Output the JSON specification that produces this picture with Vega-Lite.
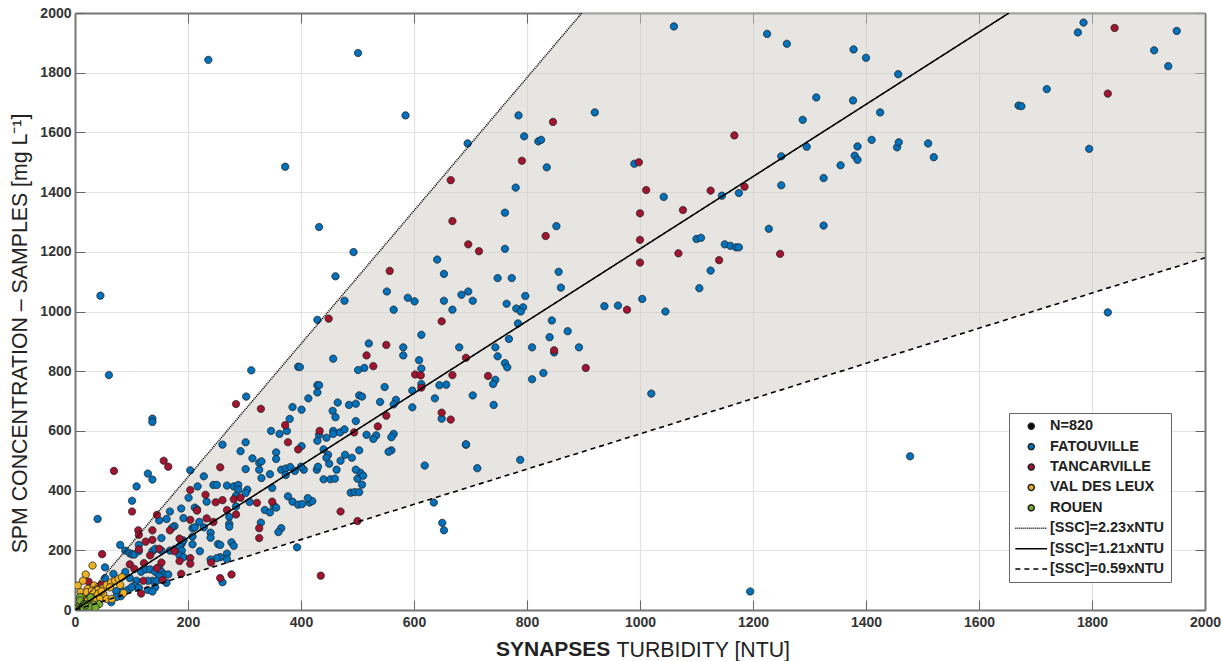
{"$schema":"https://vega.github.io/schema/vega-lite/v6.json","width":1130,"height":597,"autosize":{"type":"none"},"padding":{"left":75,"top":13,"right":17,"bottom":51},"background":"white",
"title":{"text":"SYNAPSES","orient":"bottom","anchor":"start","dx":487,"offset":-21,"fontSize":21,"font":"Liberation Sans","fontWeight":"bold","color":"#222"},
"config":{"view":{"stroke":null}},
"resolve":{"axis":{"x":"independent","y":"independent"}},
"datasets":{
"band":[{"x":0,"lo":0,"hi":0},{"x":897,"lo":529,"hi":2000},{"x":2000,"lo":1180,"hi":2000}],
"lines":[{"x":0,"y":0,"s":"A"},{"x":897,"y":2000,"s":"A"},{"x":0,"y":0,"s":"B"},{"x":1653,"y":2000,"s":"B"},{"x":0,"y":0,"s":"C"},{"x":2000,"y":1180,"s":"C"}],
"pts":[
{"x":236,"y":1843,"s":"F"},{"x":501,"y":1866,"s":"F"},{"x":1060,"y":1955,"s":"F"},{"x":1225,"y":1930,"s":"F"},{"x":1260,"y":1897,"s":"F"},{"x":1378,"y":1878,"s":"F"},{"x":1400,"y":1850,"s":"F"},{"x":1775,"y":1935,"s":"F"},{"x":1785,"y":1968,"s":"F"},{"x":1910,"y":1875,"s":"F"},{"x":1950,"y":1940,"s":"F"},{"x":1935,"y":1822,"s":"F"},{"x":1457,"y":1795,"s":"F"},{"x":1312,"y":1717,"s":"F"},{"x":1377,"y":1707,"s":"F"},{"x":1288,"y":1642,"s":"F"},{"x":1295,"y":1552,"s":"F"},{"x":1425,"y":1667,"s":"F"},{"x":1410,"y":1575,"s":"F"},{"x":1380,"y":1522,"s":"F"},{"x":1385,"y":1553,"s":"F"},{"x":1385,"y":1508,"s":"F"},{"x":1355,"y":1490,"s":"F"},{"x":1325,"y":1447,"s":"F"},{"x":1250,"y":1520,"s":"F"},{"x":1250,"y":1423,"s":"F"},{"x":1455,"y":1550,"s":"F"},{"x":1458,"y":1567,"s":"F"},{"x":1510,"y":1563,"s":"F"},{"x":1520,"y":1517,"s":"F"},{"x":1670,"y":1690,"s":"F"},{"x":1675,"y":1688,"s":"F"},{"x":1720,"y":1745,"s":"F"},{"x":1795,"y":1545,"s":"F"},{"x":1325,"y":1288,"s":"F"},{"x":1228,"y":1277,"s":"F"},{"x":920,"y":1667,"s":"F"},{"x":990,"y":1495,"s":"F"},{"x":1042,"y":1384,"s":"F"},{"x":1145,"y":1388,"s":"F"},{"x":1175,"y":1397,"s":"F"},{"x":1150,"y":1225,"s":"F"},{"x":1160,"y":1220,"s":"F"},{"x":1170,"y":1215,"s":"F"},{"x":1175,"y":1215,"s":"F"},{"x":1100,"y":1243,"s":"F"},{"x":1108,"y":1247,"s":"F"},{"x":1105,"y":1078,"s":"F"},{"x":1125,"y":1137,"s":"F"},{"x":1045,"y":1000,"s":"F"},{"x":1020,"y":725,"s":"F"},{"x":1478,"y":515,"s":"F"},{"x":1828,"y":997,"s":"F"},{"x":1195,"y":62,"s":"F"},{"x":585,"y":1657,"s":"F"},{"x":372,"y":1485,"s":"F"},{"x":695,"y":1563,"s":"F"},{"x":785,"y":1657,"s":"F"},{"x":795,"y":1587,"s":"F"},{"x":820,"y":1570,"s":"F"},{"x":825,"y":1575,"s":"F"},{"x":835,"y":1483,"s":"F"},{"x":780,"y":1415,"s":"F"},{"x":45,"y":1053,"s":"F"},{"x":60,"y":787,"s":"F"},{"x":312,"y":803,"s":"F"},{"x":303,"y":715,"s":"F"},{"x":395,"y":815,"s":"F"},{"x":385,"y":680,"s":"F"},{"x":347,"y":600,"s":"F"},{"x":362,"y":590,"s":"F"},{"x":380,"y":640,"s":"F"},{"x":375,"y":600,"s":"F"},
{"x":432,"y":1283,"s":"F"},{"x":493,"y":1199,"s":"F"},{"x":461,"y":1118,"s":"F"},{"x":477,"y":1036,"s":"F"},{"x":429,"y":972,"s":"F"},{"x":761,"y":1331,"s":"F"},{"x":761,"y":1210,"s":"F"},{"x":852,"y":1286,"s":"F"},{"x":641,"y":1174,"s":"F"},{"x":653,"y":1126,"s":"F"},{"x":748,"y":1112,"s":"F"},{"x":773,"y":1112,"s":"F"},{"x":856,"y":1133,"s":"F"},{"x":860,"y":1080,"s":"F"},{"x":696,"y":1067,"s":"F"},{"x":684,"y":1056,"s":"F"},{"x":552,"y":1067,"s":"F"},{"x":589,"y":1046,"s":"F"},{"x":601,"y":1034,"s":"F"},{"x":653,"y":1036,"s":"F"},{"x":704,"y":1036,"s":"F"},{"x":797,"y":1052,"s":"F"},{"x":764,"y":1026,"s":"F"},{"x":781,"y":1010,"s":"F"},{"x":793,"y":1014,"s":"F"},{"x":789,"y":1000,"s":"F"},{"x":668,"y":1006,"s":"F"},{"x":564,"y":1006,"s":"F"},{"x":784,"y":960,"s":"F"},{"x":844,"y":970,"s":"F"},{"x":937,"y":1018,"s":"F"},{"x":961,"y":1020,"s":"F"},{"x":1004,"y":1042,"s":"F"},{"x":840,"y":914,"s":"F"},{"x":872,"y":934,"s":"F"},{"x":768,"y":908,"s":"F"},{"x":613,"y":922,"s":"F"},{"x":520,"y":893,"s":"F"},{"x":581,"y":880,"s":"F"},{"x":680,"y":880,"s":"F"},{"x":744,"y":880,"s":"F"},{"x":809,"y":880,"s":"F"},{"x":892,"y":880,"s":"F"},{"x":848,"y":863,"s":"F"},{"x":581,"y":853,"s":"F"},{"x":748,"y":850,"s":"F"},{"x":457,"y":842,"s":"F"},{"x":609,"y":837,"s":"F"},{"x":613,"y":809,"s":"F"},{"x":761,"y":827,"s":"F"},{"x":765,"y":813,"s":"F"},{"x":829,"y":794,"s":"F"},{"x":512,"y":811,"s":"F"},{"x":501,"y":804,"s":"F"},{"x":398,"y":814,"s":"F"},{"x":809,"y":773,"s":"F"},{"x":744,"y":771,"s":"F"},{"x":740,"y":757,"s":"F"},{"x":645,"y":753,"s":"F"},{"x":657,"y":755,"s":"F"},{"x":613,"y":757,"s":"F"},{"x":597,"y":735,"s":"F"},{"x":429,"y":753,"s":"F"},{"x":432,"y":753,"s":"F"},{"x":429,"y":729,"s":"F"},{"x":548,"y":747,"s":"F"},{"x":704,"y":719,"s":"F"},{"x":637,"y":709,"s":"F"},{"x":413,"y":709,"s":"F"},{"x":503,"y":719,"s":"F"},{"x":508,"y":715,"s":"F"},{"x":465,"y":695,"s":"F"},{"x":485,"y":687,"s":"F"},{"x":497,"y":691,"s":"F"},{"x":540,"y":697,"s":"F"},{"x":568,"y":704,"s":"F"},{"x":564,"y":689,"s":"F"},{"x":401,"y":671,"s":"F"},{"x":597,"y":679,"s":"F"},{"x":456,"y":667,"s":"F"},{"x":461,"y":646,"s":"F"},{"x":741,"y":687,"s":"F"},{"x":649,"y":641,"s":"F"},{"x":497,"y":633,"s":"F"},{"x":457,"y":600,"s":"F"},{"x":457,"y":590,"s":"F"},{"x":432,"y":587,"s":"F"},{"x":469,"y":595,"s":"F"},{"x":477,"y":605,"s":"F"},{"x":445,"y":577,"s":"F"},{"x":429,"y":567,"s":"F"},{"x":516,"y":587,"s":"F"},{"x":533,"y":585,"s":"F"},{"x":528,"y":573,"s":"F"},{"x":564,"y":590,"s":"F"},{"x":560,"y":579,"s":"F"},{"x":692,"y":554,"s":"F"},{"x":440,"y":538,"s":"F"},{"x":401,"y":549,"s":"F"},{"x":503,"y":535,"s":"F"},{"x":560,"y":535,"s":"F"},
{"x":137,"y":641,"s":"F"},{"x":137,"y":630,"s":"F"},{"x":261,"y":554,"s":"F"},{"x":302,"y":562,"s":"F"},{"x":293,"y":532,"s":"F"},{"x":204,"y":468,"s":"F"},{"x":228,"y":448,"s":"F"},{"x":129,"y":457,"s":"F"},{"x":137,"y":437,"s":"F"},{"x":109,"y":414,"s":"F"},{"x":101,"y":366,"s":"F"},{"x":40,"y":305,"s":"F"},{"x":314,"y":508,"s":"F"},{"x":326,"y":493,"s":"F"},{"x":330,"y":498,"s":"F"},{"x":356,"y":528,"s":"F"},{"x":356,"y":506,"s":"F"},{"x":302,"y":472,"s":"F"},{"x":326,"y":470,"s":"F"},{"x":330,"y":442,"s":"F"},{"x":345,"y":455,"s":"F"},{"x":365,"y":470,"s":"F"},{"x":373,"y":474,"s":"F"},{"x":381,"y":479,"s":"F"},{"x":373,"y":452,"s":"F"},{"x":389,"y":466,"s":"F"},{"x":349,"y":409,"s":"F"},{"x":245,"y":419,"s":"F"},{"x":251,"y":419,"s":"F"},{"x":217,"y":414,"s":"F"},{"x":201,"y":376,"s":"F"},{"x":269,"y":417,"s":"F"},{"x":281,"y":414,"s":"F"},{"x":289,"y":419,"s":"F"},{"x":289,"y":403,"s":"F"},{"x":305,"y":403,"s":"F"},{"x":302,"y":392,"s":"F"},{"x":285,"y":383,"s":"F"},{"x":212,"y":343,"s":"F"},{"x":216,"y":337,"s":"F"},{"x":188,"y":340,"s":"F"},{"x":168,"y":330,"s":"F"},{"x":149,"y":300,"s":"F"},{"x":162,"y":305,"s":"F"},{"x":192,"y":308,"s":"F"},{"x":220,"y":295,"s":"F"},{"x":208,"y":274,"s":"F"},{"x":212,"y":277,"s":"F"},{"x":228,"y":277,"s":"F"},{"x":240,"y":259,"s":"F"},{"x":240,"y":242,"s":"F"},{"x":208,"y":246,"s":"F"},{"x":208,"y":220,"s":"F"},{"x":221,"y":197,"s":"F"},{"x":253,"y":221,"s":"F"},{"x":257,"y":218,"s":"F"},{"x":273,"y":312,"s":"F"},{"x":273,"y":289,"s":"F"},{"x":273,"y":279,"s":"F"},{"x":277,"y":227,"s":"F"},{"x":281,"y":215,"s":"F"},{"x":269,"y":189,"s":"F"},{"x":269,"y":170,"s":"F"},{"x":257,"y":177,"s":"F"},{"x":251,"y":174,"s":"F"},{"x":240,"y":169,"s":"F"},{"x":285,"y":347,"s":"F"},{"x":309,"y":362,"s":"F"},{"x":336,"y":335,"s":"F"},{"x":345,"y":327,"s":"F"},{"x":352,"y":349,"s":"F"},{"x":356,"y":343,"s":"F"},{"x":377,"y":381,"s":"F"},{"x":385,"y":363,"s":"F"},{"x":395,"y":353,"s":"F"},{"x":329,"y":293,"s":"F"},{"x":365,"y":274,"s":"F"},{"x":360,"y":261,"s":"F"},{"x":393,"y":210,"s":"F"},{"x":233,"y":363,"s":"F"},
{"x":153,"y":241,"s":"F"},{"x":176,"y":281,"s":"F"},{"x":172,"y":276,"s":"F"},{"x":80,"y":218,"s":"F"},{"x":89,"y":199,"s":"F"},{"x":97,"y":190,"s":"F"},{"x":101,"y":186,"s":"F"},{"x":105,"y":186,"s":"F"},{"x":113,"y":218,"s":"F"},{"x":113,"y":197,"s":"F"},{"x":137,"y":197,"s":"F"},{"x":142,"y":205,"s":"F"},{"x":153,"y":199,"s":"F"},{"x":168,"y":199,"s":"F"},{"x":176,"y":203,"s":"F"},{"x":189,"y":222,"s":"F"},{"x":192,"y":233,"s":"F"},{"x":185,"y":213,"s":"F"},{"x":189,"y":199,"s":"F"},{"x":185,"y":183,"s":"F"},{"x":192,"y":177,"s":"F"},{"x":53,"y":143,"s":"F"},{"x":53,"y":107,"s":"F"},{"x":68,"y":121,"s":"F"},{"x":89,"y":128,"s":"F"},{"x":97,"y":107,"s":"F"},{"x":117,"y":128,"s":"F"},{"x":125,"y":136,"s":"F"},{"x":133,"y":136,"s":"F"},{"x":142,"y":128,"s":"F"},{"x":149,"y":143,"s":"F"},{"x":153,"y":128,"s":"F"},{"x":158,"y":119,"s":"F"},{"x":165,"y":119,"s":"F"},{"x":149,"y":113,"s":"F"},{"x":137,"y":98,"s":"F"},{"x":129,"y":98,"s":"F"},{"x":145,"y":98,"s":"F"},{"x":162,"y":91,"s":"F"},{"x":142,"y":76,"s":"F"},{"x":129,"y":67,"s":"F"},{"x":137,"y":62,"s":"F"},{"x":109,"y":98,"s":"F"},{"x":105,"y":82,"s":"F"},{"x":113,"y":74,"s":"F"},{"x":93,"y":67,"s":"F"},{"x":81,"y":67,"s":"F"},{"x":73,"y":63,"s":"F"},{"x":81,"y":46,"s":"F"},{"x":64,"y":26,"s":"F"},{"x":73,"y":43,"s":"F"},{"x":100,"y":76,"s":"F"},{"x":261,"y":93,"s":"F"},
{"x":712,"y":475,"s":"F"},{"x":788,"y":503,"s":"F"},{"x":692,"y":555,"s":"F"},{"x":650,"y":292,"s":"F"},{"x":653,"y":267,"s":"F"},{"x":635,"y":360,"s":"F"},{"x":619,"y":484,"s":"F"},{"x":405,"y":470,"s":"F"},{"x":415,"y":360,"s":"F"},{"x":428,"y":470,"s":"F"},{"x":440,"y":438,"s":"F"},{"x":448,"y":520,"s":"F"},{"x":452,"y":438,"s":"F"},{"x":460,"y":440,"s":"F"},{"x":470,"y":500,"s":"F"},{"x":478,"y":520,"s":"F"},{"x":488,"y":393,"s":"F"},{"x":495,"y":395,"s":"F"},{"x":500,"y":440,"s":"F"},{"x":505,"y":460,"s":"F"},{"x":510,"y":450,"s":"F"},{"x":402,"y":355,"s":"F"},{"x":420,"y":365,"s":"F"},{"x":412,"y":375,"s":"F"},{"x":430,"y":480,"s":"F"},{"x":445,"y":510,"s":"F"},{"x":400,"y":480,"s":"F"},{"x":490,"y":510,"s":"F"},{"x":497,"y":470,"s":"F"},{"x":503,"y":395,"s":"F"},{"x":508,"y":420,"s":"F"},{"x":450,"y":490,"s":"F"},{"x":463,"y":470,"s":"F"},{"x":555,"y":530,"s":"F"},
{"x":668,"y":1303,"s":"T"},{"x":696,"y":1225,"s":"T"},{"x":715,"y":1202,"s":"T"},{"x":833,"y":1253,"s":"T"},{"x":1000,"y":1329,"s":"T"},{"x":1000,"y":1240,"s":"T"},{"x":1000,"y":1164,"s":"T"},{"x":557,"y":1136,"s":"T"},{"x":449,"y":976,"s":"T"},{"x":649,"y":967,"s":"T"},{"x":977,"y":1006,"s":"T"},{"x":551,"y":888,"s":"T"},{"x":516,"y":853,"s":"T"},{"x":528,"y":817,"s":"T"},{"x":692,"y":845,"s":"T"},{"x":848,"y":870,"s":"T"},{"x":904,"y":811,"s":"T"},{"x":602,"y":789,"s":"T"},{"x":612,"y":786,"s":"T"},{"x":668,"y":787,"s":"T"},{"x":731,"y":784,"s":"T"},{"x":613,"y":745,"s":"T"},{"x":649,"y":661,"s":"T"},{"x":665,"y":638,"s":"T"},{"x":551,"y":651,"s":"T"},{"x":536,"y":615,"s":"T"},{"x":433,"y":600,"s":"T"},{"x":494,"y":595,"s":"T"},{"x":846,"y":1635,"s":"T"},{"x":791,"y":1505,"s":"T"},{"x":998,"y":1500,"s":"T"},{"x":1011,"y":1407,"s":"T"},{"x":1076,"y":1340,"s":"T"},{"x":1125,"y":1405,"s":"T"},{"x":1167,"y":1590,"s":"T"},{"x":1185,"y":1418,"s":"T"},{"x":1248,"y":1193,"s":"T"},{"x":1140,"y":1172,"s":"T"},{"x":1068,"y":1195,"s":"T"},{"x":1828,"y":1730,"s":"T"},{"x":1840,"y":1950,"s":"T"},{"x":665,"y":1440,"s":"T"},{"x":435,"y":115,"s":"T"},{"x":470,"y":330,"s":"T"},{"x":500,"y":298,"s":"T"},
{"x":69,"y":466,"s":"T"},{"x":157,"y":500,"s":"T"},{"x":165,"y":480,"s":"T"},{"x":257,"y":478,"s":"T"},{"x":231,"y":386,"s":"T"},{"x":204,"y":402,"s":"T"},{"x":249,"y":361,"s":"T"},{"x":261,"y":368,"s":"T"},{"x":285,"y":690,"s":"T"},{"x":329,"y":674,"s":"T"},{"x":372,"y":619,"s":"T"},{"x":377,"y":562,"s":"T"},{"x":395,"y":538,"s":"T"},{"x":349,"y":363,"s":"T"},{"x":322,"y":359,"s":"T"},{"x":281,"y":371,"s":"T"},{"x":293,"y":376,"s":"T"},{"x":269,"y":335,"s":"T"},{"x":285,"y":320,"s":"T"},{"x":216,"y":333,"s":"T"},{"x":233,"y":307,"s":"T"},{"x":245,"y":295,"s":"T"},{"x":204,"y":302,"s":"T"},{"x":326,"y":274,"s":"T"},{"x":326,"y":241,"s":"T"},{"x":101,"y":330,"s":"T"},{"x":145,"y":319,"s":"T"},{"x":112,"y":267,"s":"T"},{"x":113,"y":252,"s":"T"},{"x":137,"y":267,"s":"T"},{"x":168,"y":267,"s":"T"},{"x":137,"y":235,"s":"T"},{"x":125,"y":229,"s":"T"},{"x":113,"y":203,"s":"T"},{"x":149,"y":205,"s":"T"},{"x":133,"y":183,"s":"T"},{"x":48,"y":187,"s":"T"},{"x":97,"y":153,"s":"T"},{"x":105,"y":138,"s":"T"},{"x":122,"y":157,"s":"T"},{"x":153,"y":159,"s":"T"},{"x":145,"y":140,"s":"T"},{"x":185,"y":239,"s":"T"},{"x":176,"y":197,"s":"T"},{"x":185,"y":164,"s":"T"},{"x":204,"y":174,"s":"T"},{"x":204,"y":155,"s":"T"},{"x":241,"y":159,"s":"T"},{"x":257,"y":107,"s":"T"},{"x":277,"y":119,"s":"T"},{"x":188,"y":121,"s":"T"},{"x":121,"y":98,"s":"T"},{"x":155,"y":100,"s":"T"},{"x":117,"y":55,"s":"T"},{"x":24,"y":95,"s":"T"},{"x":47,"y":85,"s":"T"},
{"x":31,"y":149,"s":"V"},{"x":19,"y":119,"s":"V"},{"x":5,"y":82,"s":"V"},{"x":14,"y":98,"s":"V"},{"x":34,"y":82,"s":"V"},{"x":22,"y":71,"s":"V"},{"x":10,"y":60,"s":"V"},{"x":12,"y":43,"s":"V"},{"x":40,"y":67,"s":"V"},{"x":50,"y":73,"s":"V"},{"x":56,"y":84,"s":"V"},{"x":64,"y":93,"s":"V"},{"x":71,"y":98,"s":"V"},{"x":77,"y":104,"s":"V"},{"x":83,"y":110,"s":"V"},{"x":80,"y":84,"s":"V"},{"x":62,"y":76,"s":"V"},{"x":50,"y":54,"s":"V"},{"x":40,"y":54,"s":"V"},{"x":27,"y":48,"s":"V"},{"x":44,"y":37,"s":"V"},{"x":56,"y":37,"s":"V"},{"x":65,"y":37,"s":"V"},{"x":86,"y":57,"s":"V"},{"x":33,"y":32,"s":"V"},{"x":18,"y":32,"s":"V"},{"x":9,"y":20,"s":"V"},{"x":21,"y":60,"s":"V"},{"x":30,"y":65,"s":"V"},{"x":47,"y":63,"s":"V"},
{"x":9,"y":43,"s":"R"},{"x":27,"y":43,"s":"R"},{"x":12,"y":26,"s":"R"},{"x":21,"y":20,"s":"R"},{"x":33,"y":18,"s":"R"},{"x":43,"y":20,"s":"R"},{"x":6,"y":9,"s":"R"},{"x":15,"y":7,"s":"R"},{"x":27,"y":11,"s":"R"},{"x":36,"y":9,"s":"R"},{"x":9,"y":32,"s":"R"},{"x":2,"y":2,"s":"R"},{"x":18,"y":15,"s":"R"}
]},
"layer":[
{"data":{"name":"band"},"mark":{"type":"area","fill":"#cdcbc5","fillOpacity":0.5,"clip":true},"encoding":{
"x":{"field":"x","type":"quantitative","scale":{"domain":[0,2000],"nice":false},"axis":{"orient":"top","labels":false,"title":null,"grid":false,"values":[0,200,400,600,800,1000,1200,1400,1600,1800,2000],"tickSize":-10,"tickColor":"#666","domainColor":"#777","domainWidth":2}},
"y":{"field":"hi","type":"quantitative","scale":{"domain":[0,2000],"nice":false},"axis":{"orient":"right","labels":false,"title":null,"grid":false,"values":[0,200,400,600,800,1000,1200,1400,1600,1800,2000],"tickSize":-10,"tickColor":"#666","domainColor":"#777","domainWidth":2}},
"y2":{"field":"lo"}}},
{"data":{"name":"pts"},"mark":{"type":"point","filled":false,"size":52,"strokeWidth":0.9,"opacity":1,"clip":true},"encoding":{
"x":{"field":"x","type":"quantitative","axis":{"orient":"bottom","format":"d","labelFlush":false,"values":[0,200,400,600,800,1000,1200,1400,1600,1800,2000],"title":"TURBIDITY [NTU]","titleFont":"Liberation Sans","titleFontWeight":"normal","titleFontSize":21.3,"titleColor":"#222","titleX":541,"titleY":29,"titleAnchor":"start","titleAlign":"left","labelFont":"Liberation Sans","labelFontWeight":"bold","labelFontSize":14,"labelColor":"#333","labelPadding":15,"grid":true,"gridColor":"#e2e2e2","gridWidth":1.2,"tickSize":-10,"tickColor":"#666","domainColor":"#777","domainWidth":2}},
"y":{"field":"y","type":"quantitative","axis":{"orient":"left","format":"d","values":[0,200,400,600,800,1000,1200,1400,1600,1800,2000],"title":"SPM CONCENTRATION – SAMPLES [mg L⁻¹]","titleFont":"Liberation Sans","titleFontWeight":"normal","titleFontSize":21.3,"titleColor":"#222","titleX":-45,"titleY":320,"labelFont":"Liberation Sans","labelFontWeight":"bold","labelFontSize":14,"labelColor":"#333","labelPadding":14,"grid":true,"gridColor":"#e2e2e2","gridWidth":1.2,"tickSize":-10,"tickColor":"#666","domainColor":"#777","domainWidth":2}},
"fill":{"field":"s","type":"nominal","title":null,"scale":{"domain":["N","F","T","V","R","A","B","C"],"range":["#000000","#0072BD","#A2142F","#EDB120","#77AC30","transparent","transparent","transparent"]},
"legend":{"orient":"none","legendX":934,"legendY":400,"title":null,"padding":6,"fillColor":"white","strokeColor":"#666","rowPadding":5.4,"symbolSize":36,"symbolOffset":9,"labelFont":"Liberation Sans","labelFontWeight":"bold","labelFontSize":14.5,"labelColor":"#222","labelOffset":11.5,"labelExpr":"{'N':'N=820','F':'FATOUVILLE','T':'TANCARVILLE','V':'VAL DES LEUX','R':'ROUEN','A':'[SSC]=2.23xNTU','B':'[SSC]=1.21xNTU','C':'[SSC]=0.59xNTU'}[datum.label]"}},
"stroke":{"field":"s","type":"nominal","title":null,"scale":{"domain":["N","F","T","V","R","A","B","C"],"range":["#222222","#222222","#222222","#222222","#222222","#000000","#000000","#000000"]}},
"shape":{"field":"s","type":"nominal","title":null,"scale":{"domain":["N","F","T","V","R","A","B","C"],"range":["circle","circle","circle","circle","circle","M-5.3,0H5.3","M-5.3,0H5.3","M-5.3,0H5.3"]}},
"strokeDash":{"field":"s","type":"nominal","title":null,"scale":{"domain":["N","F","T","V","R","A","B","C"],"range":[[1,0],[1,0],[1,0],[1,0],[1,0],[1,1],[1,0],[5,4]]}}
}},
{"data":{"name":"lines"},"mark":{"type":"line","strokeWidth":1.6,"clip":true},"encoding":{
"x":{"field":"x","type":"quantitative","axis":null},
"y":{"field":"y","type":"quantitative","axis":null},
"detail":{"field":"s"},
"stroke":{"field":"s","type":"nominal","legend":null},
"strokeDash":{"field":"s","type":"nominal","legend":null}
}}
]}
